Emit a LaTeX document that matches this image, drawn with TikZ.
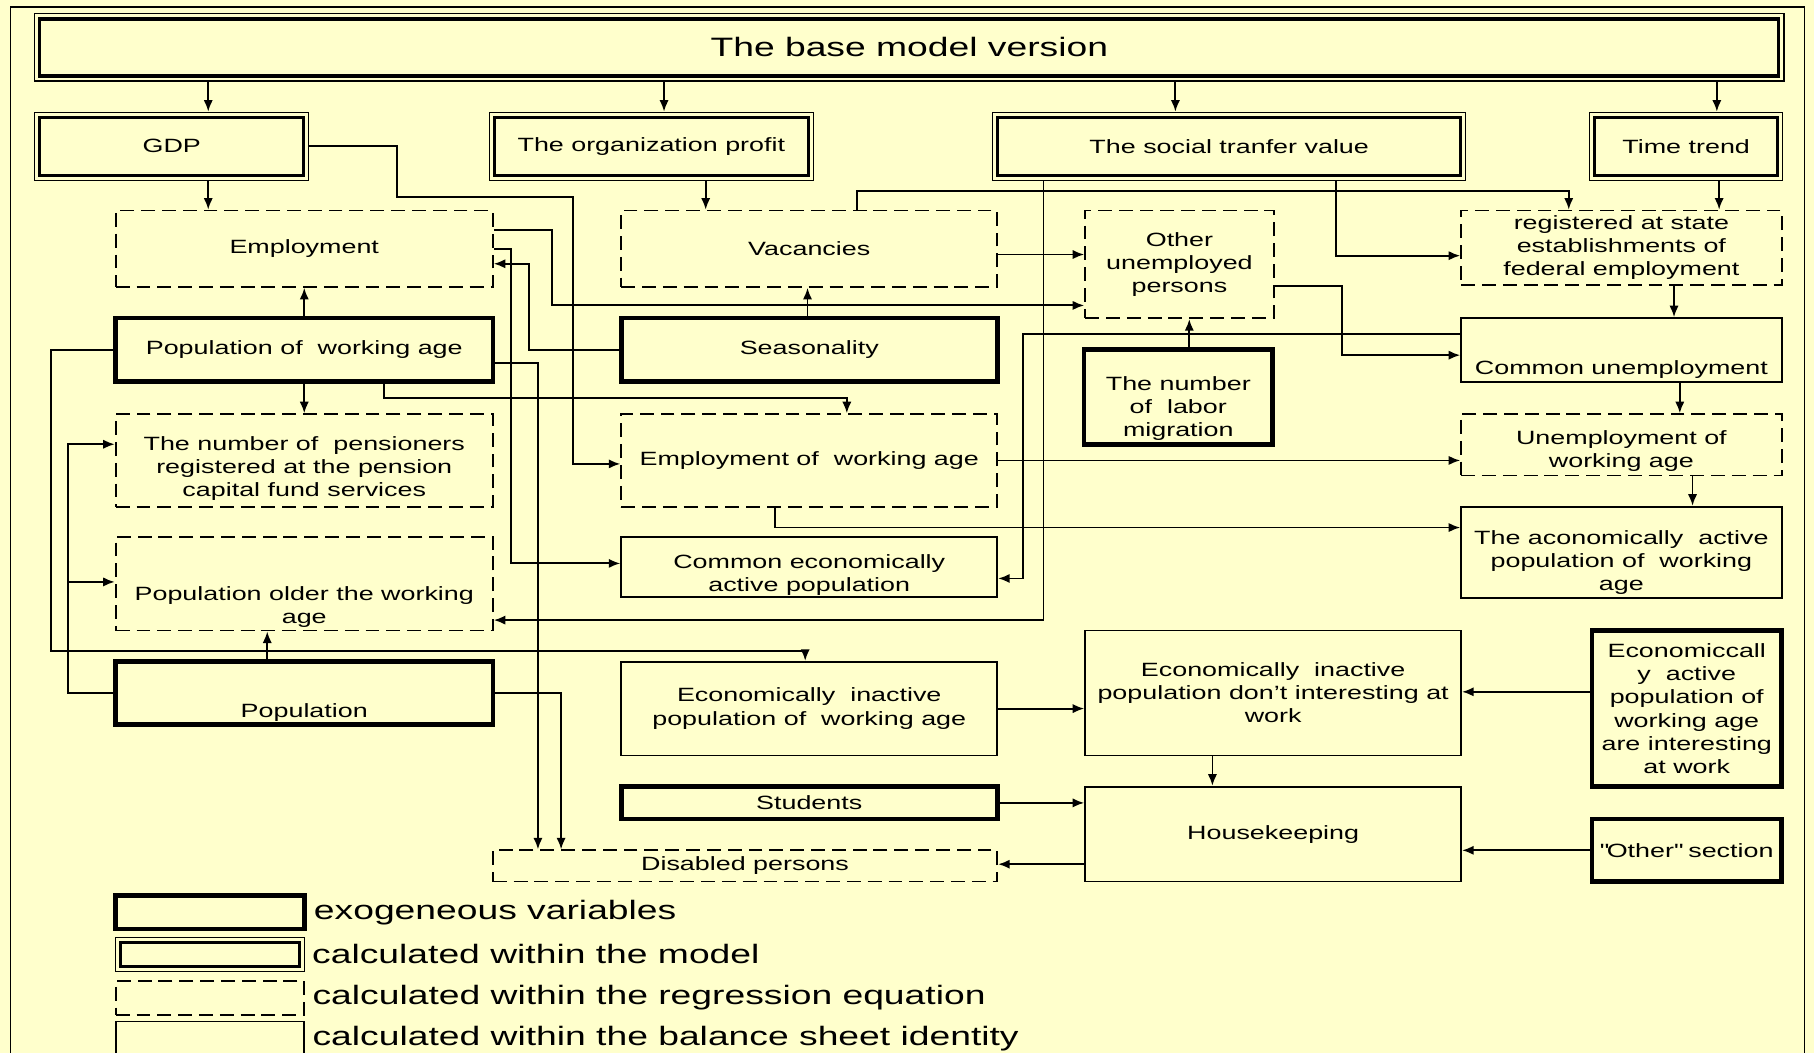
\documentclass[tikz,border=0pt]{standalone}
\usepackage{fontspec}
\setmainfont{Liberation Sans}[FakeStretch=1.4]
\usetikzlibrary{arrows.meta, positioning}
\definecolor{paper}{RGB}{255,255,204}
\tikzset{
    exogen/.style={draw, line width=2pt, inner sep=1pt, align=center},
    inmodel/.style={draw, line width=0.5pt, inner sep=1pt, align=center,
        path picture={\draw[line width=1.4pt] ([xshift=2.2pt,yshift=-2.2pt]path picture bounding box.north west) rectangle ([xshift=-2.2pt,yshift=2.2pt]path picture bounding box.south east);}},
    regress/.style={draw, line width=0.8pt, dash pattern=on 6pt off 3pt, inner sep=1pt, align=center},
    balance/.style={draw, line width=0.8pt, inner sep=1pt, align=center},
    boxtext/.style={align=center, inner sep=0pt},
    legtext/.style={inner sep=0pt, font=\fontsize{11.5}{13}\selectfont},
    flow/.style={->, line width=0.8pt} }

\begin{document}
\begin{tikzpicture}[x=0.5pt, y=-0.5pt, font=\fontsize{8.3}{10}\selectfont, >={Latex[length=5pt,width=4pt]}]
			\useasboundingbox (0,0) rectangle (1568,910);
			\fill[paper] (0,0) rectangle (1568,910);
			\draw[line width=0.6pt] (9,915) -- (9,6) -- (1560,6) -- (1560,915);
			% ---- top
			\node[inmodel, minimum width=756pt, minimum height=29pt, font=\fontsize{11.5}{13}\selectfont] (base) at (786,41) {The base model version};
			\node[inmodel, minimum width=118.5pt, minimum height=29.5pt] (gdp) at (148.5,126.5) {GDP};
			\node[inmodel, minimum width=140pt, minimum height=29.5pt] (prof) at (563,126.5) {The organization profit};
			\node[inmodel, minimum width=204.5pt, minimum height=29.5pt] (soc) at (1062.5,126.5) {The social tranfer value};
			\node[inmodel, minimum width=83.5pt, minimum height=29.5pt] (trend) at (1457.5,126.5) {Time trend};
			% ---- regression row
			\node[regress, minimum width=163pt, minimum height=33pt] (emp) at (263,215) {Employment};
			\node[regress, minimum width=162.5pt, minimum height=33pt] (vac) at (699.5,215) {Vacancies};
			\node[regress, minimum width=81.5pt, minimum height=46.5pt] (ounemp) at (1019.5,228.5) {Other\\unemployed\\persons};
			\node[regress, minimum width=138.5pt, minimum height=32pt] (reg) at (1401.5,214) {registered at state\\establishments of\\federal employment};
			% ----
			\node[exogen, minimum width=163pt, minimum height=27.5pt] (pwa) at (263,302.5) {Population of\ \ working age};
			\node[exogen, minimum width=162.5pt, minimum height=27.5pt] (seas) at (699.5,302.5) {Seasonality};
			\node[exogen, minimum width=81.5pt, minimum height=41pt] (mig) at (1018.5,343) {};
			\node[boxtext] (migT) at ([yshift=-5pt]mig.center) {The number\\of\ \ labor\\migration};
			\node[balance, minimum width=138.5pt, minimum height=27.5pt] (cu) at (1401.5,302.5) {};
			\node[boxtext] (cuT) at ([yshift=-8.25pt]cu.center) {Common unemployment};
			% ----
			\node[regress, minimum width=163pt, minimum height=40pt] (pens) at (263,398) {};
			\node[boxtext] (pensT) at ([yshift=-3.5pt]pens.center) {The number of\ \ pensioners\\registered at the pension\\capital fund services};
			\node[regress, minimum width=162.5pt, minimum height=40pt] (ewa) at (699.5,398) {Employment of\ \ working age};
			\node[regress, minimum width=138.5pt, minimum height=26.5pt] (uwa) at (1401.5,384.5) {};
			\node[boxtext] (uwaT) at ([yshift=-2.5pt]uwa.center) {Unemployment of\\working age};
			% ----
			\node[regress, minimum width=163pt, minimum height=40.5pt] (older) at (263,504.5) {};
			\node[boxtext] (olderT) at ([yshift=-10pt]older.center) {Population older the working\\age};
			\node[balance, minimum width=162.5pt, minimum height=26pt] (ceap) at (699.5,490) {};
			\node[boxtext] (ceapT) at ([yshift=-3.5pt]ceap.center) {Common economically\\active population};
			\node[balance, minimum width=138.5pt, minimum height=39.5pt] (acon) at (1401.5,477.5) {};
			\node[boxtext] (aconT) at ([yshift=-4.5pt]acon.center) {The aconomically\ \ active\\population of\ \ working\\age};
			% ----
			\node[exogen, minimum width=163pt, minimum height=27pt] (pop) at (263,599) {};
			\node[boxtext] (popT) at ([yshift=-8.5pt]pop.center) {Population};
			\node[balance, minimum width=162.5pt, minimum height=40.5pt] (eipwa) at (699.5,612.5) {Economically\ \ inactive\\population of\ \ working age};
			\node[balance, minimum width=162.5pt, minimum height=54pt] (eidont) at (1100.5,599) {Economically\ \ inactive\\population don't interesting at\\work};
			\node[exogen, minimum width=82pt, minimum height=67.5pt] (eiint) at (1458,612.5) {Economiccall\\y\ \ active\\population of\\working age\\are interesting\\at work};
			% ----
			\node[exogen, minimum width=162.5pt, minimum height=14pt] (stud) at (699.5,694) {Students};
			\node[balance, minimum width=162.5pt, minimum height=41pt] (hk) at (1100.5,721) {Housekeeping};
			\node[exogen, minimum width=82pt, minimum height=27pt] (othsec) at (1458,735) {\textquotedbl Other\textquotedbl\ section};
			\node[regress, minimum width=218pt, minimum height=13.5pt] (dis) at (644,748.5) {Disabled persons};
			% ---- legend
			\node[exogen, minimum width=81.5pt, minimum height=14.5pt] (lgExo) at (181.5,788.5) {};
			\node[legtext, right=3pt of lgExo] (lgExoT) {exogeneous variables};
			\node[inmodel, minimum width=81.5pt, minimum height=15pt] (lgMod) at (181.5,825) {};
			\node[legtext, right=3pt of lgMod] (lgModT) {calculated within the model};
			\node[regress, minimum width=81.5pt, minimum height=14.5pt] (lgReg) at (181.5,862.5) {};
			\node[legtext, right=3pt of lgReg] (lgRegT) {calculated within the regression equation};
			\node[balance, minimum width=81.5pt, minimum height=14.5pt] (lgBal) at (181.5,897.5) {};
			\node[legtext, right=3pt of lgBal] (lgBalT) {calculated within the balance sheet identity};
			% ---- from the base model
			\draw[flow] (base.south -| 180,0) -- (gdp.north -| 180,0);
			\draw[flow] (base.south -| 574,0) -- (prof.north -| 574,0);
			\draw[flow] (base.south -| 1016,0) -- (soc.north -| 1016,0);
			\draw[flow] (base.south -| 1484,0) -- (trend.north -| 1484,0);
			% ---- second row
			\draw[flow] (gdp.south -| 180,0) -- (emp.north -| 180,0);
			\draw[flow] (prof.south -| 610,0) -- (vac.north -| 610,0);
			\draw[flow] (trend.south -| 1486,0) -- (reg.north -| 1486,0);
			\draw[flow] (gdp.east) -| (343,170) -| (495,401) -- (ewa.west |- 0,401);
			\draw[flow] (soc.south -| 1155,0) |- (reg.west |- 0,221);
			\draw[flow] (soc.south -| 902,0) |- (older.east |- 0,536);
			\draw[flow] (vac.north -| 741,0) -- (741,165) -| (reg.north -| 1356,0);
			\draw[flow] (vac.east |- 0,220) -- (ounemp.west |- 0,220);
			% ---- employment and seasonality
			\draw[flow] (emp.east |- 0,199) -| (477,264) -- (ounemp.west |- 0,264);
			\draw[flow] (emp.east) -| (442,487) -- (ceap.west |- 0,487);
			\draw[flow] (seas.west) -| (457,228) -- (emp.east |- 0,228);
			\draw[flow] (seas.north -| 698,0) -- (vac.south -| 698,0);
			% ---- population of working age
			\draw[flow] (pwa.north) -- (emp.south);
			\draw[flow] (pwa.south) -- (pens.north);
			\draw[flow] (pwa.south -| 332,0) -- (332,344) -| (ewa.north -| 732,0);
			\draw[flow] (pwa.east |- 0,314) -| (dis.north -| 465,0);
			\draw[flow] (pwa.west) -| (44,563) -| (eipwa.north -| 696,0);
			% ---- population
			\coordinate (popfork) at (59,503);
			\draw[flow] (pop.north -| 231,0) -- (older.south -| 231,0);
			\draw[flow] (pop.west) -| (59,384) -- (pens.west |- 0,384);
			\draw[flow] (popfork) -- (older.west |- popfork);
			\draw[flow] (pop.east) -| (dis.north -| 485,0);
			% ---- employment of working age
			\draw[flow] (ewa.east) -- (ewa.east -| uwa.west);
			\draw[flow] (ewa.south -| 670,0) |- (acon.west |- 0,456);
			% ---- unemployment
			\draw[flow] (reg.south -| 1447,0) -- (cu.north -| 1447,0);
			\draw[flow] (cu.south -| 1452,0) -- (uwa.north -| 1452,0);
			\draw[flow] (uwa.south -| 1463,0) -- (acon.north -| 1463,0);
			\draw[flow] (cu.west |- 0,289) -| (884,500) -- (ceap.east |- 0,500);
			\draw[flow] (ounemp.east |- 0,247) -| (1160,307) -- (cu.west |- 0,307);
			\draw[flow] (mig.north -| 1028,0) -- (ounemp.south -| 1028,0);
			% ---- inactive population
			\draw[flow] (eipwa.east) -- (eipwa.east -| eidont.west);
			\draw[flow] (eiint.west |- 0,598) -- (eidont.east |- 0,598);
			\draw[flow] (eidont.south -| 1048,0) -- (hk.north -| 1048,0);
			\draw[flow] (stud.east) -- (stud.east -| hk.west);
			\draw[flow] (othsec.west) -- (othsec.west -| hk.east);
			\draw[flow] (hk.west |- 0,747) -- (dis.east |- 0,747);
		\end{tikzpicture}
\end{document}
